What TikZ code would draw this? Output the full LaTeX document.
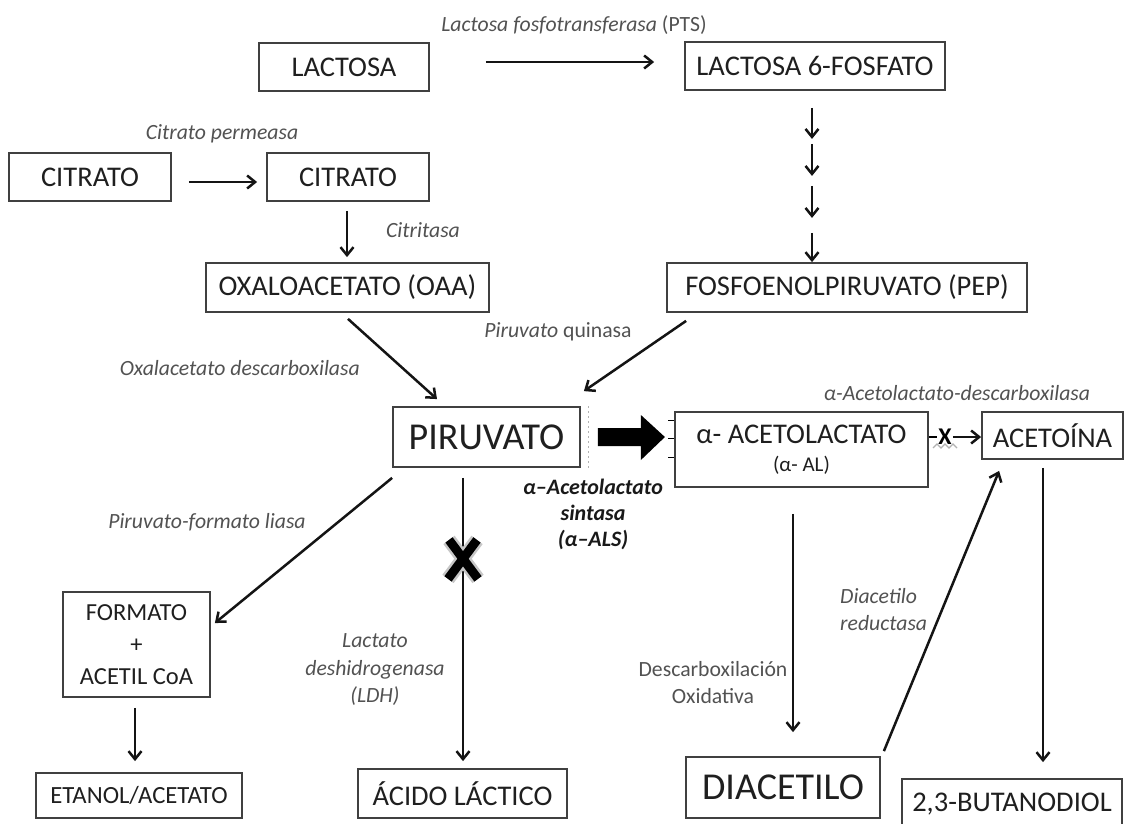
\documentclass[tikz,border=0pt]{standalone}
\usepackage{fontspec}
\setmainfont{Carlito}
\usetikzlibrary{arrows.meta,calc}
\begin{document}
\begin{tikzpicture}[x=1pt,y=-1pt,
  box/.style={draw=black!75, line width=1.8pt, inner sep=0pt, text=black!88, font=\fontsize{28.5}{32}\selectfont},
  lbl/.style={text=black!68, font=\fontsize{21.7}{27}\selectfont\itshape, align=center, inner sep=0pt},
  arr/.style={line width=2.5pt, draw=black!92, -{Straight Barb[length=8pt,width=13pt,line width=2.5pt]}},
  xmark/.style={line width=9pt, draw=black},
  xglow/.style={line width=14pt, draw=black!22}]
\fill[white] (0,0) rectangle (1124,823);
\useasboundingbox (0,0) rectangle (1124,823);

% boxes
\node[box,minimum width=170pt,minimum height=48pt] (lac) at (344,67) {LACTOSA};
\node[box,minimum width=260pt,minimum height=48pt] (lac6) at (815,66) {LACTOSA 6-FOSFATO};
\node[box,minimum width=162pt,minimum height=48pt] (cit1) at (90,177) {CITRATO};
\node[box,minimum width=162pt,minimum height=48pt] (cit2) at (348,177) {CITRATO};
\node[box,minimum width=283pt,minimum height=49pt] (oaa) at (347.5,287.5) {OXALOACETATO (OAA)};
\node[box,minimum width=360pt,minimum height=49pt] (pep) at (847,287.5) {FOSFOENOLPIRUVATO (PEP)};
\node[box,minimum width=187pt,minimum height=60pt,font=\fontsize{38}{42}\selectfont] (pir) at (486.5,437) {PIRUVATO};
\node[box,minimum width=253pt,minimum height=75pt,align=center] (aal) at (801.5,449.5) {α- ACETOLACTATO\\[-4pt]{\fontsize{21}{24}\selectfont (α- AL)}};
\node[box,minimum width=141pt,minimum height=47pt] (acet) at (1052.5,435.5) {ACETOÍNA};
\node[box,minimum width=147pt,minimum height=105pt,align=center,font=\fontsize{24.5}{32}\selectfont] (form) at (136.5,644.5) {FORMATO\\+\\ACETIL CoA};
\node[box,minimum width=206pt,minimum height=45pt,font=\fontsize{24.7}{28}\selectfont] (etan) at (139,795.5) {ETANOL/ACETATO};
\node[box,minimum width=209pt,minimum height=49pt] (acid) at (462.5,793.5) {ÁCIDO LÁCTICO};
\node[box,minimum width=194pt,minimum height=61pt,font=\fontsize{38}{42}\selectfont] (diac) at (783,787.5) {DIACETILO};
\node[box,minimum width=220pt,minimum height=50pt] (but) at (1012,804) {2,3-BUTANODIOL};

% labels
\node[lbl] (lpts) at (574,25) {Lactosa fosfotransferasa {\upshape (PTS)}};
\node[lbl] (lcp) at (222,134) {Citrato permeasa};
\node[lbl] (lcit) at (423,230) {Citritasa};
\node[lbl,anchor=east] (lod) at (360,368) {Oxalacetato descarboxilasa};
\node[lbl] (lpq) at (558,332) {Piruvato {\upshape quinasa}};
\node[lbl] (lad) at (957,393) {α-Acetolactato-descarboxilasa};
\node[lbl,text=black!90,font=\fontsize{22}{26}\selectfont\bfseries\itshape] (lals) at (593,514) {α–Acetolactato\\sintasa\\(α–ALS)};
\node[lbl] (lpf) at (207,522) {Piruvato-formato liasa};
\node[lbl,font=\fontsize{21.7}{27.5}\selectfont\itshape] (lldh) at (375,670) {Lactato\\deshidrogenasa\\(LDH)};
\node[lbl,font=\fontsize{21.7}{27}\selectfont] (ldo) at (713,683) {Descarboxilación\\Oxidativa};
\node[lbl,anchor=west,align=left] (ldr) at (840,610) {Diacetilo\\reductasa};

% connectors
\draw[arr] ($(lac.east)+(56,-5)$) -- ($(lac6.west)+(-30,-4)$);
\draw[arr] ($(cit1.east)+(17,5)$) -- ($(cit2.west)+(-9,5)$);
\draw[arr] ($(cit2.south)+(-1,9)$) -- ($(oaa.north)+(-0.5,-5)$);
\draw[arr] ($(lac6.south)+(-3,17)$) -- ($(lac6.south)+(-3,48)$);
\draw[arr] ($(lac6.south)+(-3,53)$) -- ($(lac6.south)+(-3,85)$);
\draw[arr] ($(lac6.south)+(-3,95)$) -- ($(lac6.south)+(-3,127)$);
\draw[arr] ($(lac6.south)+(-3,142)$) -- ($(pep.north)+(-35,0)$);
\draw[arr] ($(oaa.south)+(0.5,6)$) -- ($(pir.north)+(-49.5,-7)$);
\draw[arr] ($(pep.south west)+(20,8)$) -- ($(pir.north east)+(3,-15)$);
\draw[arr] ($(pir.south west)+(0,10)$) -- ($(form.east)+(4,-21.5)$);
\draw[arr] ($(pir.south)+(-23.5,10)$) -- ($(acid.north)+(0.5,-7)$);
\draw[arr] ($(form.south)+(-1.5,10)$) -- ($(etan.north)+(-4,-11)$);
\draw[arr] ($(aal.south)+(-8.5,26)$) -- ($(diac.north)+(10,-24)$);
\draw[arr] ($(diac.north east)+(3,-5)$) -- ($(acet.south west)+(18,11)$);
\draw[arr] ($(acet.south)+(-9.5,8)$) -- ($(but.north)+(31,-16)$);

% blocked LDH step
\coordinate (ldhx) at ($(pir.south)+(-23.5,91)$);
\draw[xglow] ($(ldhx)+(-14,-19)$) -- ($(ldhx)+(15,20)$);
\draw[xglow] ($(ldhx)+(14,-19)$) -- ($(ldhx)+(-15,20)$);
\draw[xmark] ($(ldhx)+(-14,-19)$) -- ($(ldhx)+(15,20)$);
\draw[xmark] ($(ldhx)+(14,-19)$) -- ($(ldhx)+(-15,20)$);

% big arrow alpha-ALS
\fill[black] ($(pir.east)+(17,-9)$) -- ($(pir.east)+(60,-9)$) -- ($(pir.east)+(60,-22)$) -- ($(pir.east)+(84,0)$) -- ($(pir.east)+(60,23)$) -- ($(pir.east)+(60,9)$) -- ($(pir.east)+(17,9)$) -- cycle;
\draw[black!30, line width=1pt, dash pattern=on 2pt off 3pt] ($(pir.north east)+(8,0)$) -- ($(pir.south east)+(8,0)$);
\draw[line width=1.5pt] ($(aal.west)+(-6,-29)$) -- ($(aal.west)+(0,-29)$);
\draw[line width=1.5pt] ($(aal.west)+(-6,-11)$) -- ($(aal.west)+(0,-11)$);
\draw[line width=1.5pt] ($(aal.west)+(-6,8)$) -- ($(aal.west)+(0,8)$);

% blocked alpha-AL -> acetoina
\node[inner sep=1pt, font=\fontsize{24}{26}\selectfont\bfseries] (xsm) at (945,437) {X};
\draw[black!30, line width=1.2pt] (933,448) -- (937,444) -- (941,448) -- (945,444) -- (949,448) -- (953,444) -- (957,448);
\draw[line width=2.5pt] ($(aal.east)+(0,-12.5)$) -- (xsm.west);
\draw[arr] (xsm.east) -- (acet.west |- xsm.east);
\end{tikzpicture}
\end{document}
